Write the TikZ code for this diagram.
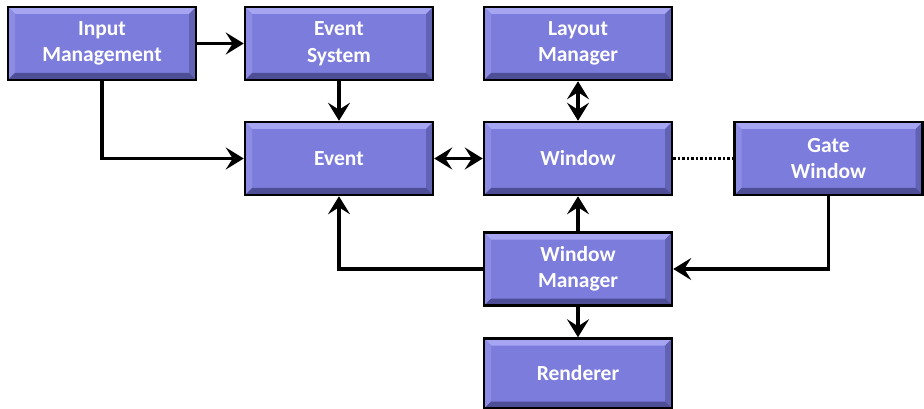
\documentclass[tikz,border=0pt]{standalone}
\usepackage{fontspec}
\setmainfont{Carlito}
\usetikzlibrary{arrows.meta,calc}

\definecolor{boxfill}{RGB}{124,124,220}
\definecolor{bevlight}{RGB}{165,165,242}
\definecolor{bevside}{RGB}{140,140,228}
\definecolor{bevdark}{RGB}{78,78,150}
\definecolor{bevdarkside}{RGB}{98,98,180}

\tikzset{
  block/.style={
    draw=black, line width=2.5pt, fill=boxfill,
    minimum width=188pt, minimum height=73pt, inner sep=0pt,
    text=white, align=center,
    font=\bfseries\fontsize{21.5}{26.5}\selectfont,
    path picture={
      \coordinate (nw) at (path picture bounding box.north west);
      \coordinate (ne) at (path picture bounding box.north east);
      \coordinate (sw) at (path picture bounding box.south west);
      \coordinate (se) at (path picture bounding box.south east);
      \fill[bevlight] (nw) -- (ne) -- ($(ne)+(-7pt,-7pt)$) -- ($(nw)+(7pt,-7pt)$) -- cycle;
      \fill[bevside] (nw) -- ($(nw)+(7pt,-7pt)$) -- ($(sw)+(7pt,7pt)$) -- (sw) -- cycle;
      \fill[bevdarkside] (ne) -- ($(ne)+(-7pt,-7pt)$) -- ($(se)+(-7pt,7pt)$) -- (se) -- cycle;
      \fill[bevdark] (sw) -- (se) -- ($(se)+(-7pt,7pt)$) -- ($(sw)+(7pt,7pt)$) -- cycle;
    }
  },
  tip/.tip={Stealth[length=18pt 0 0,width=22pt 0 0,inset=7pt 0 0]},
  link/.style={line width=3.5pt, -tip},
  bilink/.style={line width=3.5pt, tip-tip},
  dotlink/.style={line width=2.5pt, dash pattern=on 2.5pt off 2pt}
}

\begin{document}
\begin{tikzpicture}[x=1pt,y=-1pt]
  \useasboundingbox (0,0) rectangle (924,409);

  % blocks
  \node[block] (im) at (102,43.5)  {Input\\Management};
  \node[block] (es) at (339,43.5)  {Event\\System};
  \node[block] (lm) at (578,43.5)  {Layout\\Manager};
  \node[block] (ev) at (339,158.5) {Event};
  \node[block] (wi) at (578,158.5) {Window};
  \node[block] (gw) at (828.5,158.5) {Gate\\Window};
  \node[block] (wm) at (578,269)   {Window\\Manager};
  \node[block, minimum height=70pt] (re) at (578,373.5) {Renderer};

  % connectors
  \draw[link] (im.east) -- (es.west);
  \draw[link] (im.south) |- (ev.west);
  \draw[link] (es.south) -- (ev.north);
  \draw[bilink] (ev.east) -- (wi.west);
  \draw[bilink] (lm.south) -- (wi.north);
  \draw[dotlink] (wi.east) -- (gw.west);
  \draw[link] (wm.north) -- (wi.south);
  \draw[link] (wm.west) -| (ev.south);
  \draw[link] (gw.south) |- (wm.east);
  \draw[link] (wm.south) -- (re.north);
\end{tikzpicture}
\end{document}
